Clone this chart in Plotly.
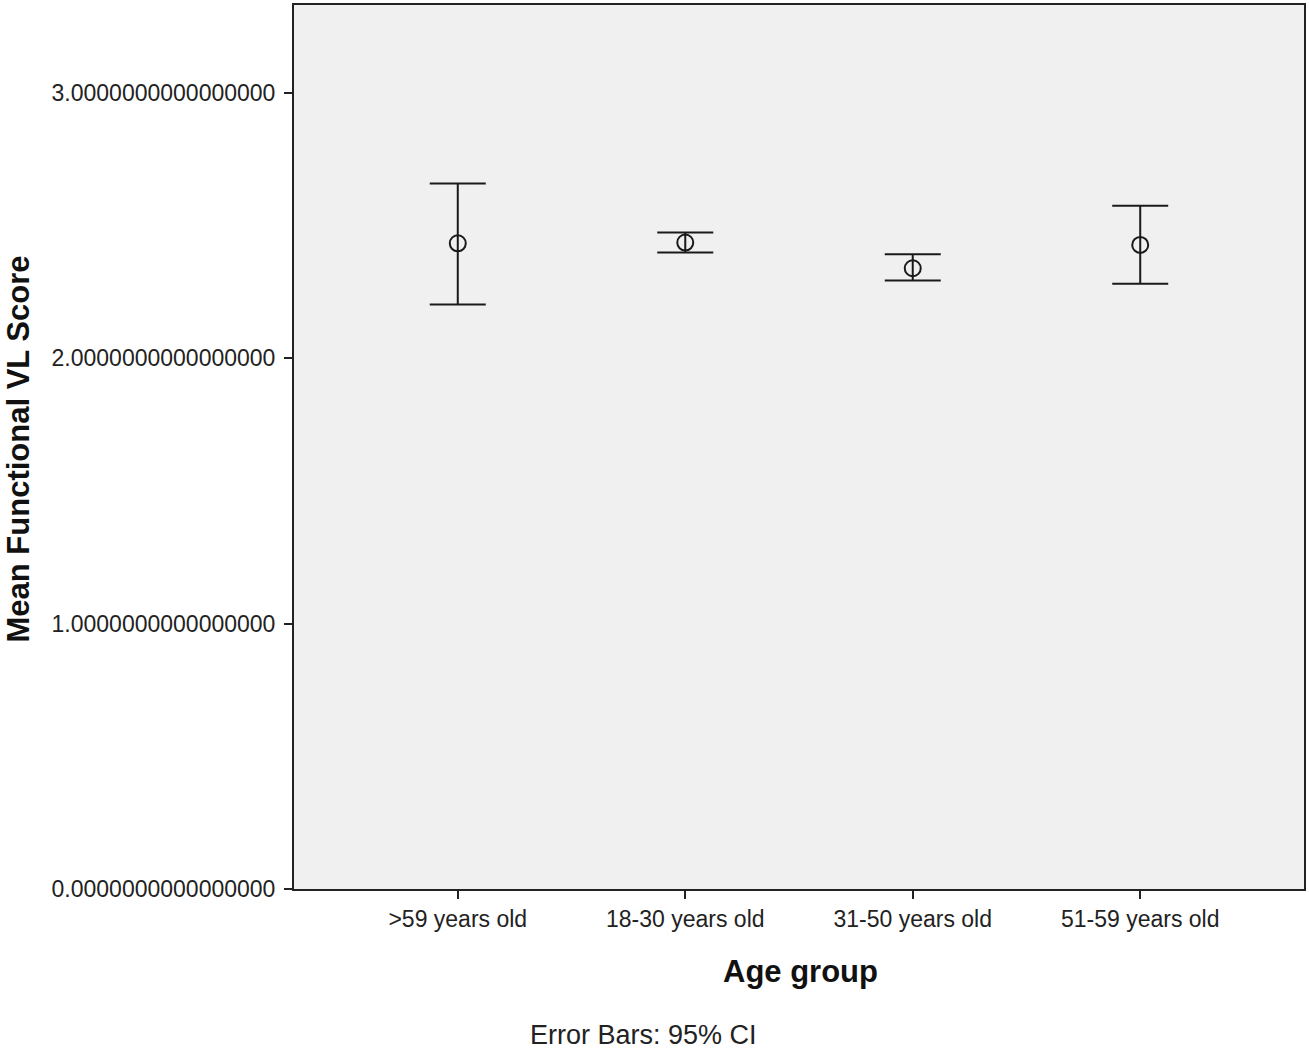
import plotly.graph_objects as go

categories = [">59 years old", "18-30 years old", "31-50 years old", "51-59 years old"]
means = [2.433, 2.436, 2.339, 2.427]
ci_upper = [2.658, 2.474, 2.392, 2.575]
ci_lower = [2.202, 2.398, 2.293, 2.281]
y_ticks = [0, 1, 2, 3]

err_plus = [u - m for u, m in zip(ci_upper, means)]
err_minus = [m - l for m, l in zip(means, ci_lower)]

fig = go.Figure()
fig.add_trace(go.Scatter(
    x=categories, y=means, mode="markers",
    marker=dict(symbol="circle-open", size=16, color="#1a1a1a", line=dict(width=2, color="#1a1a1a")),
    error_y=dict(type="data", symmetric=False, array=err_plus, arrayminus=err_minus,
                 color="#1a1a1a", thickness=2, width=28),
    showlegend=False,
))

font = "Liberation Sans, Arial, sans-serif"
fig.update_layout(
    width=1309, height=1050,
    margin=dict(l=294, r=5, t=3, b=161),
    paper_bgcolor="white", plot_bgcolor="#f0f0f0",
    font=dict(family=font, color="#222222", size=23),
    xaxis=dict(type="category", range=[-0.72, 3.72], showgrid=False, zeroline=False,
               showline=True, mirror=True, linecolor="#222222", linewidth=2,
               ticks="outside", ticklen=8, tickwidth=2, tickcolor="#222222",
               tickfont=dict(size=23, family=font)),
    yaxis=dict(range=[0, 3.331], tickvals=y_ticks, tickformat=".16f", showgrid=False, zeroline=False,
               showline=True, mirror=True, linecolor="#222222", linewidth=2,
               ticks="outside", ticklen=8, tickwidth=2, tickcolor="#222222",
               ticklabelstandoff=4,
               tickfont=dict(size=23, family=font)),
    annotations=[
        dict(text="<b>Mean Functional VL Score</b>", xref="paper", yref="paper",
             x=(0 - 294) / 1010, y=(889 - 448) / 886, textangle=-90, showarrow=False,
             xanchor="left", yanchor="middle", borderpad=0,
             font=dict(size=31, family=font, color="#111111")),
        dict(text="<b>Age group</b>", xref="paper", yref="paper",
             x=(800 - 294) / 1010, y=(889 - 972) / 886, showarrow=False,
             xanchor="center", yanchor="middle", font=dict(size=31, family=font, color="#111111")),
        dict(text="Error Bars: 95% CI", xref="paper", yref="paper",
             x=(643 - 294) / 1010, y=(889 - 1035) / 886, showarrow=False,
             xanchor="center", yanchor="middle", font=dict(size=27, family=font, color="#222222")),
    ],
)

fig.write_html("out.html", config={"displayModeBar": False},
               post_script="document.body.style.margin='0';document.body.style.overflow='hidden';")
